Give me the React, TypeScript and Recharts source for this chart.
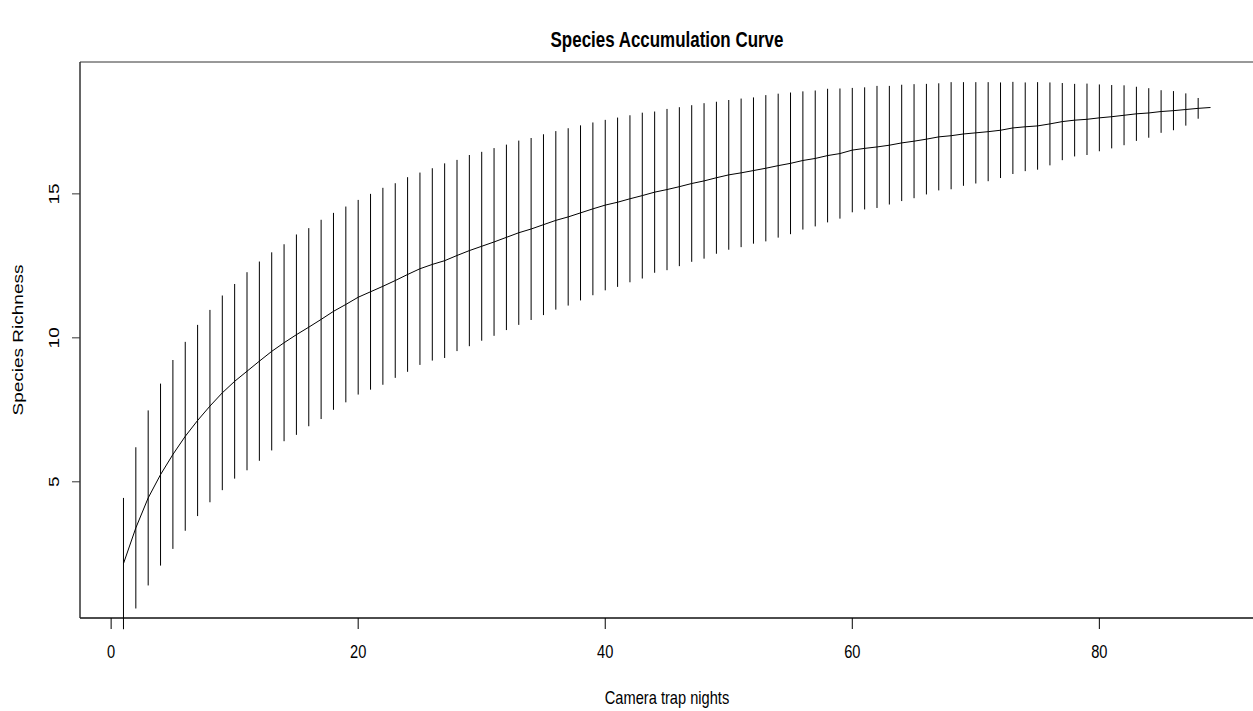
import React from 'react';
import { ComposedChart, Line, ErrorBar, XAxis, YAxis, ReferenceArea } from 'recharts';

// species accumulation: mean richness and its sd per camera trap night
const richness = [
  2.16, 3.4, 4.44, 5.25, 5.95, 6.58, 7.13, 7.63, 8.09, 8.49,
  8.84, 9.19, 9.53, 9.83, 10.11, 10.37, 10.64, 10.92, 11.16, 11.41,
  11.6, 11.79, 11.99, 12.2, 12.4, 12.55, 12.68, 12.86, 13.03, 13.18,
  13.33, 13.49, 13.65, 13.78, 13.93, 14.08, 14.2, 14.34, 14.48, 14.61,
  14.71, 14.83, 14.94, 15.06, 15.15, 15.25, 15.36, 15.45, 15.56, 15.66,
  15.73, 15.81, 15.89, 15.98, 16.06, 16.16, 16.23, 16.33, 16.4, 16.52,
  16.58, 16.63, 16.69, 16.77, 16.83, 16.9, 16.98, 17.02, 17.08, 17.12,
  17.16, 17.21, 17.29, 17.33, 17.36, 17.43, 17.51, 17.56, 17.59, 17.64,
  17.68, 17.73, 17.78, 17.81, 17.86, 17.89, 17.93, 17.97, 18.0,
];

const sd = [
  1.14, 1.4, 1.52, 1.58, 1.64, 1.64, 1.66, 1.67, 1.69, 1.69,
  1.72, 1.73, 1.72, 1.71, 1.74, 1.72, 1.73, 1.71, 1.7, 1.69,
  1.7, 1.71, 1.69, 1.69, 1.67, 1.67, 1.69, 1.66, 1.66, 1.64,
  1.63, 1.61, 1.6, 1.58, 1.57, 1.55, 1.54, 1.52, 1.5, 1.48,
  1.47, 1.45, 1.44, 1.4, 1.4, 1.38, 1.36, 1.35, 1.32, 1.3,
  1.29, 1.27, 1.27, 1.25, 1.23, 1.2, 1.18, 1.16, 1.13, 1.08,
  1.06, 1.06, 1.03, 1.01, 0.99, 0.96, 0.93, 0.93, 0.9, 0.88,
  0.86, 0.83, 0.8, 0.77, 0.76, 0.72, 0.67, 0.63, 0.62, 0.58,
  0.55, 0.52, 0.47, 0.43, 0.37, 0.34, 0.28, 0.18, 0,
];

const xTicks = [0, 20, 40, 60, 80];
const yTicks = [5, 10, 15];

const X_DOMAIN: [number, number] = [-2.52, 92.52];
const Y_DOMAIN: [number, number] = [0.27, 19.58];

const FONT = "'Liberation Sans', Arial, sans-serif";
const SQUEEZE = 0.77;

const XTick = (props: any) => {
  const { x, y, payload } = props;
  return (
    <g transform={`translate(${x},${y + 23}) scale(${SQUEEZE},1)`}>
      <text textAnchor="middle" dominantBaseline="central" fontSize={19} fontFamily={FONT} fill="#000">
        {payload.value}
      </text>
    </g>
  );
};

const YTick = (props: any) => {
  const { x, y, payload } = props;
  return (
    <g transform={`translate(${x - 18},${y}) scale(${SQUEEZE},1) rotate(-90)`}>
      <text textAnchor="middle" dominantBaseline="central" fontSize={19} fontFamily={FONT} fill="#000">
        {payload.value}
      </text>
    </g>
  );
};

const App: React.FC = () => {
  const data = richness.map((r, i) => ({
    nights: i + 1,
    richness: r,
    ci: 2 * sd[i],
  }));

  return (
    <div style={{ position: 'absolute', left: 0, top: 0, width: 1253, height: 711, overflow: 'hidden', background: '#fff' }}>
      <div
        style={{
          position: 'absolute',
          left: 667,
          top: 40,
          transform: `translate(-50%, -50%) scaleX(${SQUEEZE})`,
          fontFamily: FONT,
          fontWeight: 'bold',
          fontSize: 22,
          whiteSpace: 'nowrap',
          color: '#000',
        }}
      >
        Species Accumulation Curve
      </div>
      <div
        style={{
          position: 'absolute',
          left: 667,
          top: 698,
          transform: `translate(-50%, -50%) scaleX(${SQUEEZE})`,
          fontFamily: FONT,
          fontSize: 19,
          whiteSpace: 'nowrap',
          color: '#000',
        }}
      >
        Camera trap nights
      </div>
      <div
        style={{
          position: 'absolute',
          left: 18,
          top: 340,
          transform: `translate(-50%, -50%) scaleX(${SQUEEZE}) rotate(-90deg)`,
          fontFamily: FONT,
          fontSize: 19,
          whiteSpace: 'nowrap',
          color: '#000',
        }}
      >
        Species Richness
      </div>
      <ComposedChart
        width={1270}
        height={711}
        data={data}
        margin={{ top: 62, right: 16, bottom: 0, left: 0 }}
      >
        <XAxis
          dataKey="nights"
          type="number"
          domain={X_DOMAIN}
          ticks={xTicks}
          allowDataOverflow
          height={93}
          tickSize={11}
          tickMargin={0}
          tick={<XTick />}
          axisLine={{ stroke: '#000' }}
          tickLine={{ stroke: '#000' }}
        />
        <YAxis
          type="number"
          domain={Y_DOMAIN}
          ticks={yTicks}
          allowDataOverflow
          width={80}
          tickSize={8}
          tickMargin={0}
          tick={<YTick />}
          axisLine={{ stroke: '#333' }}
          tickLine={{ stroke: '#333' }}
        />
        <ReferenceArea
          x1={X_DOMAIN[0]}
          x2={X_DOMAIN[1]}
          y1={Y_DOMAIN[0]}
          y2={Y_DOMAIN[1]}
          fill="none"
          stroke="#333"
          strokeWidth={1}
          ifOverflow="visible"
        />
        <Line
          type="linear"
          dataKey="richness"
          stroke="#000"
          strokeWidth={1}
          dot={false}
          activeDot={false}
          isAnimationActive={false}
        >
          <ErrorBar dataKey="ci" direction="y" width={0} stroke="#000" strokeWidth={1} isAnimationActive={false} />
        </Line>
      </ComposedChart>
    </div>
  );
};

export default App;
